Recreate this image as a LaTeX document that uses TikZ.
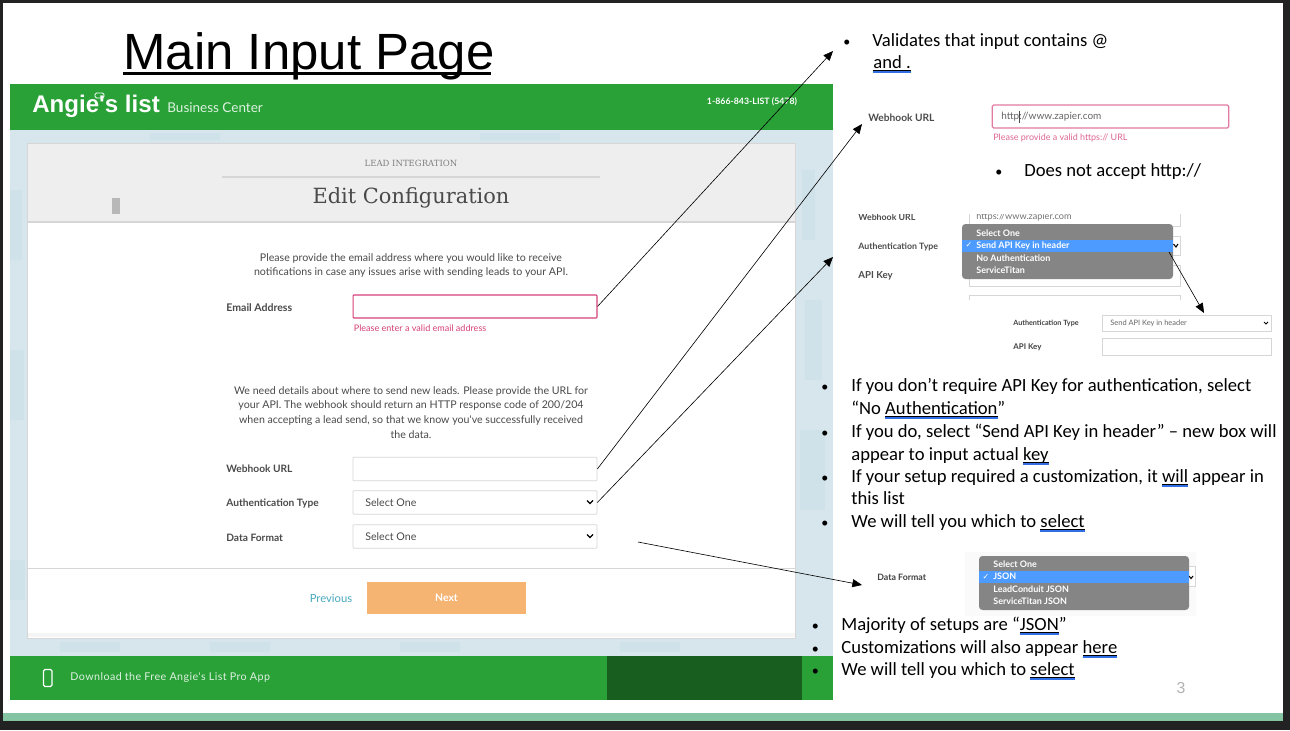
\documentclass[tikz,border=0pt]{standalone}
\usepackage{fontspec}
\usepackage{xcolor}
\usepackage{tikz}
\usetikzlibrary{arrows.meta,positioning}
\setmainfont{Carlito}
\newfontfamily\webfont{Lato}
\newfontfamily\logofont{Liberation Sans}
\newfontfamily\slabfont{DejaVu Serif}
\newfontfamily\symfont{DejaVu Sans}
\definecolor{alframe}{RGB}{34,34,34}
\definecolor{algreen}{RGB}{41,161,55}
\definecolor{aldark}{RGB}{24,95,31}
\definecolor{alband}{RGB}{133,196,162}
\definecolor{alsky}{RGB}{214,230,236}
\definecolor{alskydark}{RGB}{208,226,233}
\definecolor{alhead}{RGB}{238,238,238}
\definecolor{alline}{RGB}{214,214,214}
\definecolor{alpink}{RGB}{214,64,120}
\definecolor{altext}{RGB}{74,74,74}
\definecolor{alteal}{RGB}{72,168,190}
\definecolor{alorange}{RGB}{246,180,115}
\definecolor{almenu}{RGB}{133,133,133}
\definecolor{alpick}{RGB}{78,155,255}
\definecolor{spellblue}{RGB}{50,110,230}
\newcommand{\spell}[1]{\leavevmode\setbox0\hbox{#1}\rlap{\raisebox{-1.6pt}{\color{black}\rule{\wd0}{0.25pt}}}\rlap{\raisebox{-2.2pt}{\color{spellblue}\rule{\wd0}{0.25pt}}}\rlap{\raisebox{-2.8pt}{\color{spellblue}\rule{\wd0}{0.25pt}}}#1}
\tikzstyle{bodytext} = [anchor=base west, inner sep=0pt, font=\fontsize{10.6}{12.8}\selectfont]
\tikzstyle{bulletdot} = [anchor=base west, inner sep=0pt, font=\fontsize{8}{10}\selectfont]
\tikzstyle{webtext} = [inner sep=0pt, text=altext, align=center, font=\webfont\fontsize{6.05}{8.45}\selectfont]
\tikzstyle{weblabel} = [inner sep=0pt, anchor=west, text=altext, font=\webfont\bfseries\fontsize{5.8}{7}\selectfont]
\tikzstyle{fieldbox} = [rectangle, minimum width=4.88cm, minimum height=0.47cm, inner sep=0pt, draw=alline, fill=white, rounded corners=0.5pt]
\tikzstyle{menutext} = [inner sep=0pt, anchor=west, text=white, font=\webfont\bfseries\fontsize{5.1}{6}\selectfont]
\tikzstyle{arrow} = [black, line width=0.35pt, -{Triangle[length=5.5pt,width=4.6pt]}]
\begin{document}
\begin{tikzpicture}[x=0.02cm,y=-0.02cm]
\useasboundingbox (0,0) rectangle (1290,730);
\fill[alframe] (0,0) rectangle (1290,730);
\fill[white] (3,3) rectangle (1283,713);
\fill[alband] (3,713) rectangle (1283,721);

\fill[alsky] (10,130) rectangle (833,656);
\fill[alskydark] (10,190) rectangle (22,260);
\fill[alskydark] (10,350) rectangle (24,420);
\fill[alskydark] (10,560) rectangle (25,600);
\fill[alskydark] (802,170) rectangle (815,240);
\fill[alskydark] (805,300) rectangle (822,380);
\fill[alskydark] (800,430) rectangle (825,510);
\fill[alskydark] (60,642) rectangle (120,652);
\fill[alskydark] (210,642) rectangle (270,652);
\fill[alskydark] (400,642) rectangle (460,652);
\fill[alskydark] (620,642) rectangle (680,652);
\fill[alskydark] (150,133) rectangle (220,140);
\fill[alskydark] (480,133) rectangle (560,140);
\fill[algreen] (10,84) rectangle (833,130);
\fill[algreen] (10,656) rectangle (833,700);
\fill[aldark] (607,656) rectangle (802,700);

\node[inner sep=0pt, anchor=base west, font=\logofont\fontsize{29}{32}\selectfont] (title) at (123,69.5) {Main Input Page};
\draw[line width=2pt] (title.base west)++(0,4) -- ++(368,0);

\node[inner sep=0pt, anchor=west, text=white, font=\logofont\bfseries\fontsize{13.7}{15}\selectfont] (logo) at (32,106) {Angie's list};
\node[inner sep=0pt, anchor=west, text=white!85!algreen, font=\webfont\fontsize{7.7}{9}\selectfont] (center) at (167,108) {Business Center};
\draw[white, line width=0.5pt, rounded corners=0.8pt] (95,93) rectangle (104,98);
\node[inner sep=0pt, text=white, font=\webfont\bfseries\fontsize{5}{6}\selectfont] (phone) at (752,102) {1-866-843-LIST (5478)};

\node[rectangle, draw=alline, fill=white, minimum width=15.36cm, minimum height=9.9cm, inner sep=0pt] (card) at (411,390.5) {};
\fill[alhead] (27.5,144) rectangle (795,222);
\draw[alline, line width=0.7pt] (27.5,222) -- (795,222);
\fill[alhead!60!white] (27.5,633) rectangle (795,637);
\fill[black!28] (112,198) rectangle (120,214);
\node[inner sep=0pt, text=black!50, font=\slabfont\fontsize{4.85}{6}\selectfont] (lead) at (411,163) {LEAD INTEGRATION};
\draw[alline, line width=0.6pt] (222,177) -- (600,177);
\node[inner sep=0pt, text=altext, font=\slabfont\fontsize{11.9}{13}\selectfont] (edit) at (411,197.5) {Edit Configuration};

\node[webtext] (emailnote) at (411,265.5) {Please provide the email address where you would like to receive\\notifications in case any issues arise with sending leads to your API.};
\node[weblabel, font=\webfont\bfseries\fontsize{6}{7}\selectfont] (emaillabel) at (226,308) {Email Address};
\node[fieldbox, draw=alpink, line width=0.6pt, minimum height=0.46cm] (emailbox) at (475,306.5) {};
\node[inner sep=0pt, anchor=west, text=alpink, font=\webfont\fontsize{5.15}{6}\selectfont] (emailerror) at (353.5,328.5) {Please enter a valid email address};

\node[webtext] (apinote) at (411,412.5) {We need details about where to send new leads. Please provide the URL for\\your API. The webhook should return an HTTP response code of 200/204\\when accepting a lead send, so that we know you've successfully received\\the data.};
\node[weblabel] (webhooklabel) at (226,469) {Webhook URL};
\node[fieldbox] (webhookbox) at (475,469) {};
\node[weblabel] (authlabel) at (226,503.5) {Authentication Type};
\node[fieldbox] (authbox) at (475,502.5) {};
\node[webtext, anchor=west] (authtext) at (365,502.5) {Select One};
\draw[black, line width=0.7pt] (587,500.5) -- (590,503.5) -- (593,500.5);
\node[weblabel] (datalabel) at (226,537.5) {Data Format};
\node[fieldbox] (databox) at (475,536.5) {};
\node[webtext, anchor=west] (datatext) at (365,536.5) {Select One};
\draw[black, line width=0.7pt] (587,534.5) -- (590,537.5) -- (593,534.5);

\draw[alline, line width=0.6pt] (27.5,568.5) -- (795,568.5);
\node[inner sep=0pt, text=alteal, font=\webfont\fontsize{6.4}{7}\selectfont] (previous) at (331,598.5) {Previous};
\node[rectangle, fill=alorange, minimum width=3.2cm, minimum height=0.64cm, inner sep=0pt, text=white, font=\webfont\bfseries\fontsize{5.9}{7}\selectfont] (next) at (446.5,598) {Next};

\draw[white, line width=0.7pt, rounded corners=0.8pt] (43.5,669.5) rectangle (52,686.5);
\node[inner sep=0pt, anchor=west, text=white!85!algreen, font=\webfont\fontsize{6.1}{7}\selectfont] (download) at (70,677.5) {\addfontfeature{LetterSpace=4}Download the Free Angie's List Pro App};

\node[bulletdot] (b1dot) at (843,46) {•};
\node[bodytext] (b1a) at (872,46) {Validates that input contains @};
\node[bodytext] (b1b) at (873,68) {\spell{and .}};

\node[weblabel, text=black!70] (url2label) at (868,117.5) {Webhook URL};
\node[rectangle, draw=alpink!70, fill=white, line width=0.7pt, minimum width=4.73cm, minimum height=0.46cm, inner sep=0pt, rounded corners=0.8pt] (url2box) at (1110.5,116.5) {};
\node[inner sep=0pt, anchor=west, text=black!60, font=\webfont\fontsize{5.7}{7}\selectfont] (url2text) at (1001,117) {http://www.zapier.com};
\draw[black!70, line width=0.4pt] (1019,110.5) -- (1019,123);
\node[inner sep=0pt, anchor=west, text=alpink!80, font=\webfont\fontsize{5.1}{6}\selectfont] (url2error) at (993,137.5) {Please provide a valid https:// URL};
\node[bulletdot] (b2dot) at (995,176) {•};
\node[bodytext] (b2) at (1024,176) {Does not accept http://};

\begin{scope}
\clip (850,214.5) rectangle (1285,299);
\node[weblabel, text=black!70, font=\webfont\bfseries\fontsize{5}{6}\selectfont] (url3label) at (858,217) {Webhook URL};
\draw[alline, fill=white] (969,200) rectangle (1180,226);
\node[inner sep=0pt, anchor=west, text=black!55, font=\webfont\fontsize{5.2}{6}\selectfont] (url3text) at (976,216.5) {https://www.zapier.com};
\draw[alline, fill=white] (969,236) rectangle (1180,255);
\draw[alline, fill=white] (969,265) rectangle (1180,286);
\draw[alline, fill=white] (969,295) rectangle (1180,320);
\end{scope}
\draw[black, line width=0.6pt] (1173.5,244) -- (1176,247) -- (1178,244);
\node[weblabel, text=black!70, font=\webfont\bfseries\fontsize{5}{6}\selectfont] (auth3label) at (858,246.5) {Authentication Type};
\node[weblabel, text=black!70, font=\webfont\bfseries\fontsize{5.5}{6}\selectfont] (key3label) at (858,276) {API Key};
\fill[almenu, rounded corners=2pt] (962,224) rectangle (1173,279);
\fill[alpick] (962,240) rectangle (1173,252);
\node[menutext] (auth3a) at (976,233) {Select One};
\node[menutext] (auth3b) at (976,245.5) {Send API Key in header};
\node[inner sep=0pt, text=white, font=\symfont\fontsize{4.5}{5}\selectfont] (auth3c) at (969,245.5) {✓};
\node[menutext] (auth3d) at (976,258) {No Authentication};
\node[menutext] (auth3e) at (976,270) {ServiceTitan};

\node[weblabel, text=black!75, font=\webfont\bfseries\fontsize{4.1}{5}\selectfont] (auth4label) at (1013,323.5) {Authentication Type};
\node[rectangle, draw=alline, fill=white, minimum width=3.38cm, minimum height=0.32cm, inner sep=0pt] (auth4box) at (1186.5,323) {};
\node[inner sep=0pt, anchor=west, text=black!60, font=\webfont\fontsize{4.25}{5}\selectfont] (auth4text) at (1110,323) {Send API Key in header};
\draw[black, line width=0.5pt] (1264,322) -- (1266,324) -- (1268,322);
\node[weblabel, text=black!75, font=\webfont\bfseries\fontsize{4.5}{5}\selectfont] (key4label) at (1013,347.5) {API Key};
\node[rectangle, draw=alline, fill=white, minimum width=3.38cm, minimum height=0.34cm, inner sep=0pt] (key4box) at (1186.5,346.5) {};

\node[bulletdot] (b3dot) at (821,391) {•};
\node[bodytext] (b3a) at (851,391) {If you don’t require API Key for authentication, select};
\node[bodytext] (b3b) at (851,414) {“No \spell{Authentication}”};
\node[bulletdot] (b4dot) at (821,437) {•};
\node[bodytext] (b4a) at (851,437) {If you do, select “Send API Key in header” – new box will};
\node[bodytext] (b4b) at (851,460) {appear to input actual \spell{key}};
\node[bulletdot] (b5dot) at (821,482) {•};
\node[bodytext] (b5a) at (851,482) {If your setup required a customization, it \spell{will} appear in};
\node[bodytext] (b5b) at (851,504) {this list};
\node[bulletdot] (b6dot) at (821,527) {•};
\node[bodytext] (b6) at (851,527) {We will tell you which to \spell{select}};

\fill[black!2] (965,552) rectangle (1196,616);
\draw[alline, fill=white] (1170,566) rectangle (1195,586);
\draw[black, line width=0.6pt] (1189,576) -- (1191,578.5) -- (1193,576);
\node[weblabel, text=black!75, font=\webfont\bfseries\fontsize{5}{6}\selectfont] (data5label) at (877,577) {Data Format};
\fill[almenu, rounded corners=2pt] (979,556) rectangle (1189,610);
\fill[alpick] (979,571) rectangle (1189,583);
\node[menutext] (data5a) at (993,564) {Select One};
\node[menutext] (data5b) at (993,576.5) {JSON};
\node[inner sep=0pt, text=white, font=\symfont\fontsize{4.5}{5}\selectfont] (data5c) at (986,576.5) {✓};
\node[menutext] (data5d) at (993,589) {LeadConduit JSON};
\node[menutext] (data5e) at (993,601) {ServiceTitan JSON};

\node[bulletdot] (b7dot) at (811.5,630) {•};
\node[bodytext] (b7) at (841,630) {Majority of setups are “\spell{JSON}”};
\node[bulletdot] (b8dot) at (811.5,653) {•};
\node[bodytext] (b8) at (841,653) {Customizations will also appear \spell{here}};
\node[bulletdot] (b9dot) at (811.5,675) {•};
\node[bodytext] (b9) at (841,675) {We will tell you which to \spell{select}};
\node[inner sep=0pt, text=black!30, font=\logofont\fontsize{9}{11}\selectfont] (pagenum) at (1181,688) {3};

\coordinate (emailtip) at (833,51);
\coordinate (webhooktip) at (862,124);
\coordinate (authtip) at (833,257);
\coordinate (datastart) at (638,542);
\coordinate (datatip) at (862,585);
\coordinate (menustart) at (1169,252);
\coordinate (menutip) at (1204,313);

\draw[arrow] (emailbox.east) -- (emailtip);
\draw[arrow] (webhookbox.east) -- (webhooktip);
\draw[arrow] (authbox.east) -- (authtip);
\draw[arrow] (datastart) -- (datatip);
\draw[arrow] (menustart) -- (menutip);
\end{tikzpicture}
\end{document}
